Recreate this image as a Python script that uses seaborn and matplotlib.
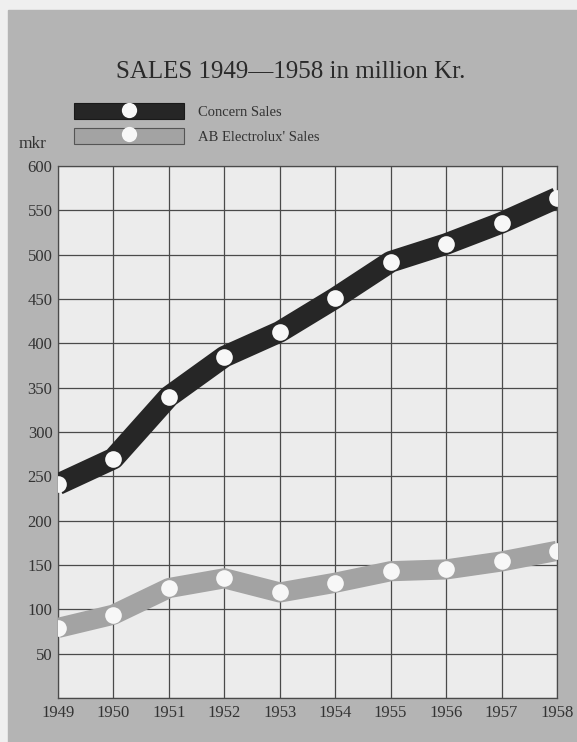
import matplotlib
matplotlib.use('Agg')
import matplotlib.pyplot as plt
from matplotlib.lines import Line2D
from matplotlib.patches import Rectangle
from matplotlib.legend_handler import HandlerTuple
import pandas as pd
import seaborn as sns

# Data (million Kr.)
years = [1949, 1950, 1951, 1952, 1953, 1954, 1955, 1956, 1957, 1958]
concern_sales = [241, 270, 340, 385, 413, 451, 492, 512, 536, 564]
electrolux_sales = [79, 94, 124, 135, 119, 130, 143, 145, 154, 166]
y_ticks = [0, 50, 100, 150, 200, 250, 300, 350, 400, 450, 500, 550, 600]
series_names = ['Concern Sales', "AB Electrolux' Sales"]

data = pd.DataFrame({'Year': years,
                     series_names[0]: concern_sales,
                     series_names[1]: electrolux_sales})

sns.set_style('white')
plt.rcParams['font.family'] = ['Liberation Serif', 'DejaVu Serif']

panel = '#b4b4b4'
plot_bg = '#ececec'
dark = '#262626'
light = '#a3a3a3'
grid = '#4a4a4a'
txt = '#333333'

fig = plt.figure(figsize=(5.77, 7.42), dpi=100)
fig.patch.set_facecolor('#efefef')
fig.patches.append(Rectangle((8 / 577, 0), 1, (742 - 10) / 742,
                             transform=fig.transFigure, color=panel, zorder=-10))

ax = fig.add_axes([58 / 577, 1 - 698 / 742, (557 - 58) / 577, (698 - 166) / 742])
ax.set_zorder(1)
ax.set_facecolor(plot_bg)

colors = [dark, light]
widths = [15.5, 14.5]
for name, col, w in zip(series_names, colors, widths):
    sns.lineplot(data=data, x='Year', y=name, ax=ax, color=col, lw=w,
                 solid_capstyle='butt', solid_joinstyle='round',
                 marker='o', markersize=12, markerfacecolor='#f7f7f7',
                 markeredgewidth=0, zorder=3)

ax.set_xlim(years[0], years[-1])
ax.set_ylim(0, 600)
ax.set_xticks(years)
ax.set_xticklabels([str(y) for y in years], fontsize=12, color=txt)
ax.set_yticks(y_ticks)
ax.set_yticklabels(['' if t == 0 else str(t) for t in y_ticks], fontsize=12, color=txt)
ax.tick_params(length=0, pad=4)
ax.tick_params(axis='x', pad=5)
ax.grid(True, color=grid, lw=0.9)
ax.set_axisbelow(True)
for s in ax.spines.values():
    s.set_color(grid)
    s.set_linewidth(0.9)
ax.set_xlabel('')
ax.set_ylabel('')

# legend: outlined band with a white dot in the middle
handles = []
for col, edge in zip(colors, ['#1a1a1a', '#555555']):
    band = Rectangle((0, 0), 1, 1, facecolor=col, edgecolor=edge, lw=0.8)
    dot = Line2D([0], [0], ls='none', marker='o', markersize=11,
                 markerfacecolor='#f7f7f7', markeredgewidth=0)
    handles.append((band, dot))
fig.legend(handles, series_names, loc='upper left',
           bbox_to_anchor=(61 / 577, 1 - 90 / 742), frameon=False,
           handler_map={tuple: HandlerTuple(ndivide=1, pad=0)},
           handlelength=7.5, handleheight=1.3, labelspacing=0.6,
           handletextpad=1.0, fontsize=10.5, labelcolor=txt)

fig.text(291 / 577, 1 - 72 / 742, 'SALES 1949\u20141958 in million Kr.',
         ha='center', va='center', fontsize=18, color='#2a2a2a')
fig.text(33 / 577, 1 - 144 / 742, 'mkr', ha='center', va='center',
         fontsize=12.5, color=txt)

fig.savefig('out.png', dpi=100)
